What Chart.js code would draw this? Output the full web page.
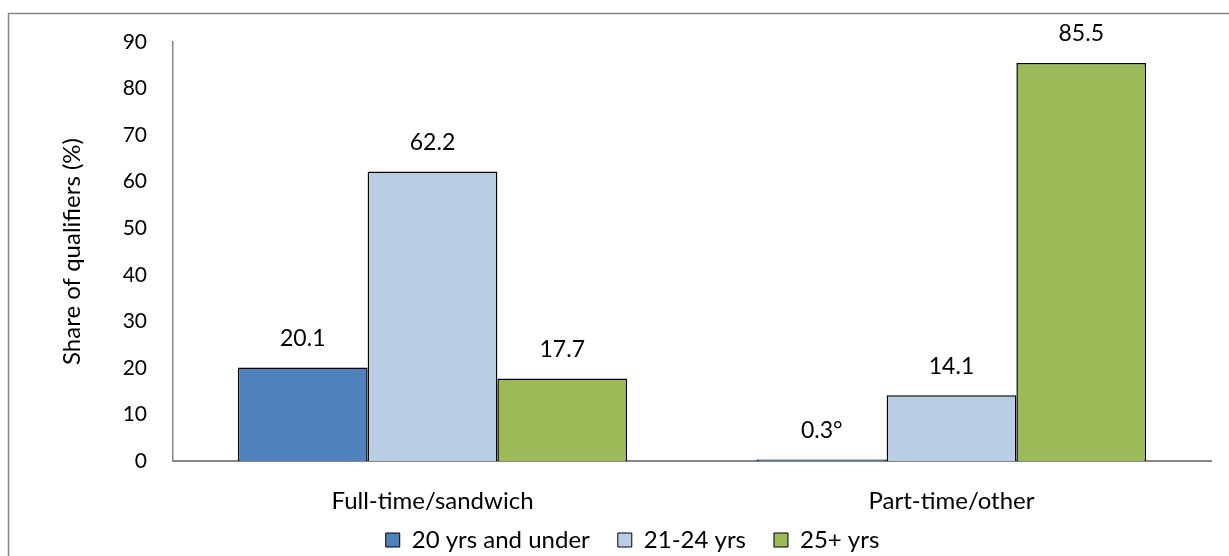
<!DOCTYPE html>
<html>
<head>
<meta charset="utf-8">
<script src="https://cdn.jsdelivr.net/npm/chart.js@4"></script>
<style>
  html, body { margin: 0; padding: 0; background: #fff; }
  #wrap { position: relative; width: 1229px; height: 556px; }
</style>
</head>
<body>
<div id="wrap"><canvas id="c" width="1229" height="556"></canvas></div>
<script>
// Study mode categories and age groups
const categories = ["Full-time/sandwich", "Part-time/other"];
const seriesNames = ["20 yrs and under", "21-24 yrs", "25+ yrs"];
const under20 = [20.1, 0.3];
const age21to24 = [62.2, 14.1];
const age25plus = [17.7, 85.5];
// footnote marker appended to a value label: [series][category]
const labelMarks = [["", "°"], ["", ""], ["", ""]];
const yTicks = [0, 10, 20, 30, 40, 50, 60, 70, 80, 90];

const colors = ["#4F81BD", "#B9CDE5", "#9BBB59"];
const FONT = "Lato, 'Open Sans', sans-serif";
const TICK_FS = 21;
const VALUE_FS = 23;
const TEXT_FS = 24;

const valueLabels = {
  id: "valueLabels",
  afterDatasetsDraw(chart) {
    const ctx = chart.ctx;
    ctx.save();
    ctx.font = VALUE_FS + "px " + FONT;
    ctx.fillStyle = "#000";
    ctx.textAlign = "center";
    ctx.textBaseline = "middle";
    chart.data.datasets.forEach((ds, di) => {
      chart.getDatasetMeta(di).data.forEach((bar, i) => {
        const txt = ds.data[i].toFixed(1) + labelMarks[di][i];
        ctx.fillText(txt, bar.x, bar.y - 29);
      });
    });
    ctx.restore();
  }
};

const frame = {
  id: "frame",
  beforeDraw(chart) {
    const ctx = chart.ctx;
    ctx.save();
    ctx.strokeStyle = "#868686";
    ctx.lineWidth = 1.5;
    ctx.strokeRect(8.5, 13.5, 1240, 600);
    ctx.restore();
  }
};

// centre the legend row under the whole frame rather than the padded box
const legendShift = {
  id: "legendShift",
  afterLayout(chart) {
    if (chart.legend) chart.legend.left += 72;
  }
};

new Chart(document.getElementById("c"), {
  type: "bar",
  data: {
    labels: categories,
    datasets: [
      { label: seriesNames[0], data: under20, backgroundColor: colors[0] },
      { label: seriesNames[1], data: age21to24, backgroundColor: colors[1] },
      { label: seriesNames[2], data: age25plus, backgroundColor: colors[2] }
    ].map(d => Object.assign(d, {
      borderColor: "#000",
      borderWidth: 1.5,
      borderSkipped: "bottom",
      barPercentage: 1.0,
      categoryPercentage: 0.75
    }))
  },
  options: {
    responsive: false,
    animation: false,
    layout: { padding: { left: 0, right: 18, top: 42, bottom: -6 } },
    plugins: {
      tooltip: { enabled: false },
      legend: {
        position: "bottom",
        labels: {
          font: { size: TEXT_FS, family: FONT },
          color: "#000",
          boxWidth: 14,
          boxHeight: 14,
          padding: 10,
          generateLabels(chart) {
            return chart.data.datasets.map((ds, i) => ({
              text: ds.label + "\u2003",
              fillStyle: ds.backgroundColor,
              strokeStyle: "#000",
              lineWidth: 1,
              datasetIndex: i
            }));
          }
        }
      }
    },
    scales: {
      x: {
        grid: { display: false, drawTicks: false },
        border: { color: "#868686", width: 2 },
        ticks: { font: { size: TEXT_FS, family: FONT }, color: "#000", padding: 26 },
        afterFit(s) { s.height = 57; }
      },
      y: {
        min: 0, max: 90,
        afterBuildTicks(s) { s.ticks = yTicks.map(v => ({ value: v })); },
        grid: { display: false, drawOnChartArea: false, drawTicks: true, tickLength: 8, tickColor: "#868686", tickWidth: 1.5 },
        border: { color: "#868686", width: 1.5 },
        ticks: { font: { size: TICK_FS, family: FONT }, color: "#000", padding: 18 },
        title: { display: true, text: "Share of qualifiers (%)", font: { size: TEXT_FS, family: FONT }, color: "#000", padding: { top: 58, bottom: 0 } },
        afterFit(s) { s.width = 173; }
      }
    }
  },
  plugins: [frame, legendShift, valueLabels]
});
</script>
</body>
</html>
